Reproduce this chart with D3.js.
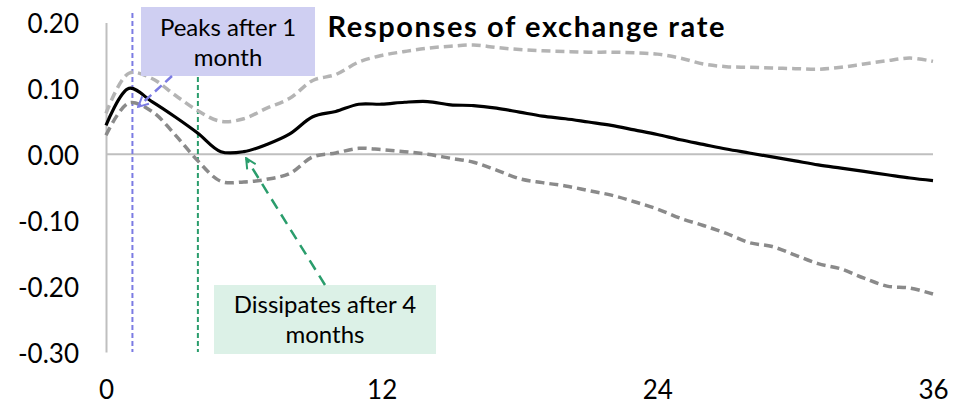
<!DOCTYPE html>
<html>
<head>
<meta charset="utf-8">
<script src="https://cdn.jsdelivr.net/npm/d3@7"></script>
<style>
  body { margin: 0; background: #fff; }
  text { font-family: Lato, "Open Sans", sans-serif; fill: #000; }
</style>
</head>
<body>
<div id="chart"></div>
<script>
'use strict';

// months after the shock
var months = d3.range(0, 37);
var xTicks = [0, 12, 24, 36];
var yTicks = [0.20, 0.10, 0.00, -0.10, -0.20, -0.30];

// point estimate
var response = [0.044, 0.100, 0.080, 0.057, 0.032, 0.004, 0.004, 0.015, 0.031, 0.057,
  0.065, 0.076, 0.076, 0.079, 0.080, 0.075, 0.074, 0.070, 0.064, 0.058,
  0.054, 0.049, 0.044, 0.037, 0.030, 0.022, 0.015, 0.008, 0.002, -0.004,
  -0.010, -0.016, -0.021, -0.026, -0.031, -0.036, -0.040];
// upper band
var upper = [0.062, 0.123, 0.115, 0.090, 0.066, 0.050, 0.054, 0.070, 0.085, 0.112,
  0.121, 0.140, 0.150, 0.156, 0.161, 0.164, 0.166, 0.162, 0.159, 0.157,
  0.156, 0.155, 0.155, 0.154, 0.152, 0.146, 0.137, 0.133, 0.132, 0.131,
  0.130, 0.129, 0.132, 0.137, 0.142, 0.146, 0.141];
// lower band
var lower = [0.029, 0.078, 0.065, 0.030, -0.010, -0.041, -0.042, -0.038, -0.029, -0.004,
  0.002, 0.009, 0.007, 0.004, 0.000, -0.006, -0.012, -0.024, -0.037, -0.043,
  -0.048, -0.055, -0.062, -0.072, -0.083, -0.097, -0.108, -0.120, -0.134, -0.140,
  -0.153, -0.166, -0.174, -0.188, -0.200, -0.203, -0.212];

// annotation markers
var peakMonth = 1.15;
var fadeMonth = 4;
var peakNote = ['Peaks after 1', 'month'];
var fadeNote = ['Dissipates after 4', 'months'];

var width = 967, height = 404;
var margin = {top: 22.5, right: 34, bottom: 52, left: 106};

var svg = d3.select('#chart').append('svg')
    .attr('width', width)
    .attr('height', height);

var x = d3.scaleLinear().domain([0, 36]).range([margin.left, width - margin.right]);
var y = d3.scaleLinear().domain([-0.30, 0.20]).range([height - margin.bottom, margin.top]);

var defs = svg.append('defs');
function marker(id, color) {
  defs.append('marker')
      .attr('id', id)
      .attr('viewBox', '0 0 12 12')
      .attr('refX', 11).attr('refY', 6)
      .attr('markerWidth', 12).attr('markerHeight', 12)
      .attr('markerUnits', 'userSpaceOnUse')
      .attr('orient', 'auto')
    .append('path')
      .attr('d', 'M1,1 L11,6 L1,11')
      .attr('fill', 'none')
      .attr('stroke', color)
      .attr('stroke-width', 2);
}
marker('arrBlue', '#7b7be3');
marker('arrGreen', '#2a9d6c');

// axes
var yAxis = d3.axisLeft(y).tickValues(yTicks).tickSize(0).tickPadding(27);
svg.append('g')
    .attr('transform', 'translate(' + margin.left + ',0)')
    .call(yAxis)
    .call(function (g) {
      g.select('.domain').attr('stroke', '#bfbfbf').attr('stroke-width', 2);
      g.selectAll('text').style('font-size', '26px').attr('dy', '0.4em')
        .text(function (d) { return d3.format('.2f')(d).replace('−', '-'); });
    });

svg.append('line')
    .attr('x1', x(0)).attr('x2', x(36))
    .attr('y1', y(0)).attr('y2', y(0))
    .attr('stroke', '#bfbfbf').attr('stroke-width', 2);

var xAxis = d3.axisBottom(x).tickValues(xTicks).tickSize(0).tickPadding(0);
svg.append('g')
    .attr('transform', 'translate(0,' + (height - margin.bottom) + ')')
    .call(xAxis)
    .call(function (g) {
      g.select('.domain').remove();
      g.selectAll('text').style('font-size', '26px').attr('y', 47).attr('dy', 0);
    });

// vertical markers
svg.append('line')
    .attr('x1', x(peakMonth)).attr('x2', x(peakMonth))
    .attr('y1', 13).attr('y2', y(-0.30))
    .attr('stroke', '#7b7be3').attr('stroke-width', 2)
    .attr('stroke-dasharray', '5,3');
svg.append('line')
    .attr('x1', x(fadeMonth)).attr('x2', x(fadeMonth))
    .attr('y1', 13).attr('y2', y(-0.30))
    .attr('stroke', '#2a9d6c').attr('stroke-width', 2)
    .attr('stroke-dasharray', '5,3');

// series
var line = d3.line()
    .x(function (d, i) { return x(months[i]); })
    .y(function (d) { return y(d); })
    .curve(d3.curveCatmullRom.alpha(0.5));

svg.append('path').datum(upper)
    .attr('d', line).attr('fill', 'none')
    .attr('stroke', '#b4b4b4').attr('stroke-width', 3.5)
    .attr('stroke-dasharray', '9,5');
svg.append('path').datum(lower)
    .attr('d', line).attr('fill', 'none')
    .attr('stroke', '#8a8a8a').attr('stroke-width', 3.5)
    .attr('stroke-dasharray', '9,5');
svg.append('path').datum(response)
    .attr('d', line).attr('fill', 'none')
    .attr('stroke', '#000').attr('stroke-width', 3.2);

// annotation boxes
svg.append('rect')
    .attr('x', 141).attr('y', 7).attr('width', 174).attr('height', 69)
    .attr('fill', '#cfcff2');
svg.append('text')
    .attr('x', 228).attr('y', 36).attr('text-anchor', 'middle')
    .style('font-size', '24px')
  .selectAll('tspan').data(peakNote).enter().append('tspan')
    .attr('x', 228).attr('dy', function (d, i) { return i ? 30 : 0; })
    .text(function (d) { return d; });

svg.append('line')
    .attr('x1', 172).attr('y1', 76)
    .attr('x2', x(1.4)).attr('y2', y(0.072))
    .attr('stroke', '#7b7be3').attr('stroke-width', 2.5)
    .attr('stroke-dasharray', '9,5')
    .attr('marker-end', 'url(#arrBlue)');

svg.append('rect')
    .attr('x', 214).attr('y', 285).attr('width', 222).attr('height', 69)
    .attr('fill', '#dcf1e7');
svg.append('text')
    .attr('x', 325).attr('y', 313).attr('text-anchor', 'middle')
    .style('font-size', '24px')
  .selectAll('tspan').data(fadeNote).enter().append('tspan')
    .attr('x', 325).attr('dy', function (d, i) { return i ? 30 : 0; })
    .text(function (d) { return d; });

svg.append('line')
    .attr('x1', 325).attr('y1', 285)
    .attr('x2', x(6.1)).attr('y2', y(-0.006))
    .attr('stroke', '#2a9d6c').attr('stroke-width', 2.5)
    .attr('stroke-dasharray', '11,7')
    .attr('marker-end', 'url(#arrGreen)');

// title
svg.append('text')
    .attr('x', 526).attr('y', 37).attr('text-anchor', 'middle')
    .style('font-size', '29px').style('font-weight', 'bold')
    .attr('textLength', 397).attr('lengthAdjust', 'spacing')
    .text('Responses of exchange rate');
</script>
</body>
</html>
